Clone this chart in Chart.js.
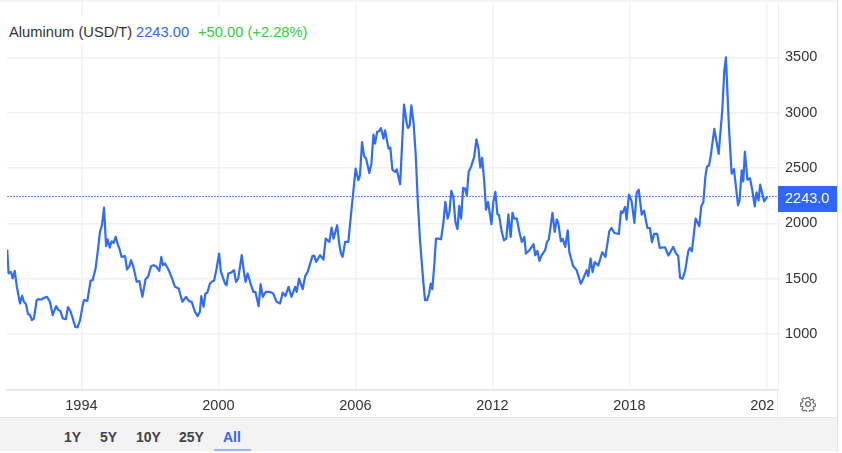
<!DOCTYPE html>
<html><head><meta charset="utf-8">
<style>
html,body{margin:0;padding:0;background:#fff;width:842px;height:453px;overflow:hidden;font-family:"Liberation Sans",Arial,sans-serif}
canvas{position:absolute;left:0;top:0}
.a{position:absolute;white-space:nowrap}
</style>
<script src="https://cdn.jsdelivr.net/npm/chart.js@4"></script>
</head><body>
<div style="position:relative;width:842px;height:453px">
<canvas id="c" width="842" height="453"></canvas>
<div class="a" style="left:0;top:0;width:837px;height:2px;background:#f3f3f3"></div>
<div class="a" style="left:837px;top:0;width:1px;height:451px;background:#e2e2e2"></div>
<div class="a" style="left:7px;top:16px;width:305px;height:27px;background:#fff"></div>
<div class="a" style="left:9px;top:23px;font-size:14.7px;line-height:18px;color:#333">Aluminum (USD/T)</div>
<div class="a" style="left:136px;top:23px;font-size:14.7px;line-height:18px;color:#3366ff">2243.00</div>
<div class="a" style="left:198px;top:23px;font-size:14.7px;line-height:18px;color:#33cc33">+50.00 (+2.28%)</div>
<div class="a" style="left:777px;top:390px;width:1px;height:27px;background:#eeeeee"></div>
<div class="a" style="left:0;top:417px;width:837px;height:33px;background:#f3f3f3;border-top:1px solid #e6e6e6"></div>
<div class="a" style="left:64px;top:428px;font-size:14px;line-height:18px;font-weight:bold;color:#444">1Y</div>
<div class="a" style="left:100px;top:428px;font-size:14px;line-height:18px;font-weight:bold;color:#444">5Y</div>
<div class="a" style="left:136px;top:428px;font-size:14px;line-height:18px;font-weight:bold;color:#444">10Y</div>
<div class="a" style="left:179px;top:428px;font-size:14px;line-height:18px;font-weight:bold;color:#444">25Y</div>
<div class="a" style="left:223px;top:428px;font-size:14px;line-height:18px;font-weight:bold;color:#3366ff">All</div>
<div class="a" style="left:214px;top:449px;width:37px;height:2px;background:#9db5f5"></div>
<svg class="a" style="left:800px;top:396px" width="16" height="16" viewBox="0 0 16 16" fill="none" stroke="#6f6f6f" stroke-width="1.3">
<circle cx="8" cy="8" r="2.4"/>
<path d="M6.7 1h2.6l.4 2 1.4.6 1.8-1.1 1.8 1.8-1.1 1.8.6 1.4 2 .4v2.6l-2 .4-.6 1.4 1.1 1.8-1.8 1.8-1.8-1.1-1.4.6-.4 2H6.7l-.4-2-1.4-.6-1.8 1.1-1.8-1.8 1.1-1.8-.6-1.4-2-.4V6.700l2-.4.6-1.4L1.300 3.100l1.800-1.800 1.800 1.100 1.400-.6z" transform="translate(.8 .8) scale(.9)"/>
</svg>
</div>
<script>
const dates=[1990.75,1990.81,1990.91,1990.99,1991.08,1991.16,1991.31,1991.40,1991.48,1991.57,1991.66,1991.75,1991.83,1991.92,
1992.04,1992.11,1992.26,1992.33,1992.49,1992.62,1992.74,1992.89,1992.99,1993.08,1993.18,1993.32,1993.41,1993.53,1993.73,1993.83,1993.94,
1994.05,1994.11,1994.26,1994.40,1994.49,1994.62,1994.74,1994.81,1994.90,1994.99,1995.08,1995.15,1995.24,1995.32,1995.41,1995.50,1995.59,1995.66,1995.76,1995.91,
1996.00,1996.10,1996.17,1996.27,1996.42,1996.54,1996.67,1996.81,1996.92,1997.05,1997.15,1997.27,1997.41,1997.50,1997.57,1997.66,1997.81,1997.95,
1998.10,1998.26,1998.42,1998.58,1998.71,1998.83,1998.97,1999.09,1999.19,1999.25,1999.35,1999.43,1999.51,1999.63,1999.72,1999.81,1999.92,
2000.03,2000.11,2000.29,2000.36,2000.43,2000.54,2000.68,2000.77,2000.87,2001.02,2001.13,2001.19,2001.28,2001.41,2001.53,2001.62,2001.76,2001.85,2001.94,
2002.08,2002.23,2002.40,2002.55,
2002.70,2002.82,2002.93,2003.07,2003.20,2003.36,2003.43,2003.53,2003.69,2003.80,2003.91,2004.12,2004.20,2004.28,2004.45,2004.60,2004.70,2004.86,2004.96,
2005.04,2005.20,2005.30,2005.37,2005.44,2005.55,2005.69,2005.84,2006.01,2006.13,2006.20,2006.29,2006.38,2006.47,2006.61,2006.70,2006.79,2006.86,2006.95,
2007.05,2007.12,2007.23,2007.30,2007.45,2007.53,2007.62,2007.74,2007.81,2007.96,2008.13,2008.25,2008.31,2008.38,2008.45,2008.55,2008.64,2008.73,2008.83,2008.98,
2009.05,2009.14,2009.23,2009.30,2009.37,2009.46,2009.53,2009.64,2009.75,2009.85,2009.94,2010.04,2010.12,2010.20,2010.29,2010.38,2010.47,2010.55,2010.63,2010.72,2010.80,2010.88,2010.96,
2011.07,2011.20,2011.30,2011.39,2011.47,2011.55,2011.64,2011.72,2011.81,2011.96,2012.04,2012.13,2012.22,2012.29,2012.41,2012.51,2012.61,2012.70,2012.80,2012.88,2012.96,
2013.07,2013.18,2013.29,2013.40,2013.47,2013.62,2013.80,2013.88,2013.97,2014.06,2014.16,2014.31,2014.39,2014.47,2014.63,2014.73,2014.82,2014.89,
2015.00,2015.08,2015.19,2015.30,2015.37,2015.54,2015.69,2015.87,2015.98,2016.13,2016.20,2016.30,2016.39,2016.48,2016.64,2016.81,2016.95,
2017.12,2017.22,2017.34,2017.54,2017.63,2017.70,2017.81,2017.88,2017.98,2018.10,2018.22,2018.32,2018.41,2018.54,2018.64,2018.79,2018.90,2018.99,
2019.08,2019.22,2019.33,2019.56,2019.71,2019.92,2020.03,2020.14,2020.22,2020.33,2020.44,2020.58,2020.65,2020.74,2020.90,
2021.06,2021.15,2021.24,2021.33,2021.40,2021.49,2021.57,2021.72,2021.91,2022.07,2022.16,2022.23,2022.36,2022.48,2022.58,2022.76,2022.83,2022.92,2022.99,
2023.06,2023.17,2023.28,2023.38,2023.49,2023.57,2023.66,2023.73,2023.90,2024.04];
const prices=[1765,1548,1563,1503,1572,1442,1277,1346,1292,1271,1181,1172,1127,1142,
1307,1316,1313,1325,1337,1292,1172,1253,1217,1208,1142,1136,1244,1202,1066,1060,1127,
1253,1307,1301,1482,1488,1593,1788,1924,1984,2143,1794,1855,1782,1837,1825,1879,1812,1773,1698,1704,
1584,1614,1668,1614,1473,1479,1337,1497,1518,1614,1623,1614,1572,1698,1623,1638,1584,1512,
1427,1412,1292,1337,1298,1292,1202,1163,1202,1343,1247,1367,1373,1457,1476,1482,1593,
1728,1563,1457,1442,1548,1554,1578,1473,1503,1713,1548,1473,1548,1457,1382,1382,1253,1451,1337,
1382,1382,1367,1292,
1277,1376,1343,1427,1337,1427,1382,1502,1406,1524,1563,1707,1707,1653,1713,1674,1863,1833,1963,
1863,1984,1803,1728,1698,1833,1833,2149,2495,2390,2435,2736,2609,2585,2456,2540,2802,2721,2826,
2835,2862,2766,2841,2676,2685,2486,2465,2489,2354,3073,2901,2862,2886,3067,2901,2630,2209,1848,1457,
1307,1307,1367,1457,1406,1638,1863,1863,1857,1999,2194,2044,2104,2294,2240,2014,1948,2158,2044,2321,2315,2255,2465,
2516,2600,2760,2676,2504,2594,2390,2125,2194,1993,2194,2285,2083,2077,1924,1848,1863,2083,1878,2095,2044,
2044,1924,1833,1878,1728,1758,1812,1713,1752,1662,1713,1758,1833,1854,2095,1924,2038,1999,
1839,1860,1788,1938,1740,1614,1578,1455,1500,1578,1524,1683,1560,1650,1620,1740,1698,
1929,1959,1914,1905,2110,2095,2149,2034,2260,2200,2005,2281,2305,2080,2116,1959,1959,1830,
1905,1905,1779,1785,1710,1788,1734,1704,1509,1500,1569,1749,1779,1749,2044,
1975,2155,2191,2425,2515,2524,2620,2854,2629,3025,3386,3500,2875,2449,2491,2164,2215,2479,2380,
2650,2395,2410,2305,2155,2281,2209,2350,2200,2243];
const xTickYears=[1994,2000,2006,2012,2018,2024];
const xTickLabels=["1994","2000","2006","2012","2018","202  "];
const yTickValues=[1000,1500,2000,2500,3000,3500];
const lastPrice=2243;
const xMin=1990.74,xMax=2024.51,yMin=495,yMax=3992;
const blue="#2f6bff";

const priceBadge={id:"priceBadge",afterDraw(chart){
  const y=chart.scales.y.getPixelForValue(lastPrice),g=chart.ctx;
  g.save();
  g.fillStyle="#2f66ff";g.fillRect(778,Math.floor(y)-10,59,26);
  g.fillStyle="#fff";g.font="14.5px 'Liberation Sans',Arial,sans-serif";
  g.textAlign="left";g.textBaseline="middle";
  g.fillText(lastPrice.toFixed(1),785,Math.floor(y)+3);
  g.restore();
}};
function noPad(s){s.paddingTop=0;s.paddingBottom=0;s.paddingLeft=0;s.paddingRight=0;}

new Chart(document.getElementById("c"),{
  type:"line",
  plugins:[priceBadge],
  data:{datasets:[
    {data:dates.map((d,i)=>({x:d,y:prices[i]})),borderColor:blue,borderWidth:2.2,pointRadius:0,tension:0,fill:false,borderJoinStyle:"round"},
    {data:[{x:xMin,y:lastPrice},{x:xMax,y:lastPrice}],borderColor:"#5a88ff",borderWidth:1,borderDash:[2,1],pointRadius:0,fill:false,segment:{borderColor:"#5a88ff"}}
  ]},
  options:{
    responsive:false,animation:false,
    layout:{padding:{left:7,top:3,right:0,bottom:0}},
    plugins:{legend:{display:false},tooltip:{enabled:false},title:{display:false}},
    scales:{
      x:{type:"linear",min:xMin,max:xMax,
        afterBuildTicks(s){s.ticks=xTickYears.map(v=>({value:v}));},
        afterFit(s){s.height=63;noPad(s);},
        grid:{color:"#eef3f6",lineWidth:1.5,drawTicks:false},
        border:{color:"#e8e8e8",width:2},
        ticks:{padding:7,maxRotation:0,autoSkip:false,color:"#333",font:{family:"'Liberation Sans',Arial,sans-serif",size:14.5},
          callback:(v)=>xTickLabels[xTickYears.indexOf(v)]}
      },
      y:{type:"linear",position:"right",min:yMin,max:yMax,
        afterBuildTicks(s){s.ticks=yTickValues.map(v=>({value:v}));},
        afterFit(s){s.width=64;noPad(s);},
        grid:{color:"#f0f0f0",lineWidth:1.5,tickLength:3},
        border:{color:"#eeeeee",width:1},
        ticks:{padding:4,color:"#333",font:{family:"'Liberation Sans',Arial,sans-serif",size:14.5},
          callback:(v)=>String(v)}
      }
    }
  }
});
</script>
</body></html>
